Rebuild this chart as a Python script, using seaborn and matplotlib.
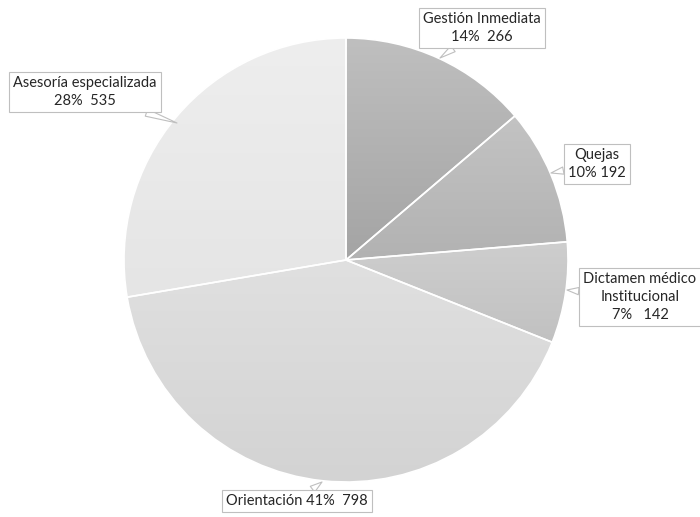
import matplotlib
matplotlib.use("Agg")
import matplotlib.pyplot as plt
import numpy as np
import seaborn as sns

# ---------------------------------------------------------------------------
# Data
# ---------------------------------------------------------------------------
categories = ["Gestión Inmediata", "Quejas", "Dictamen médico\nInstitucional",
              "Orientación", "Asesoría especializada"]
values = [266, 192, 142, 798, 535]
separators = ["\n", "\n", "\n", " ", "\n"]
gaps = ["  ", " ", "   ", "  ", "  "]

# ---------------------------------------------------------------------------
# Style
# ---------------------------------------------------------------------------
TOP_COLORS = ["#bfbfbf", "#c3c3c3", "#cecece", "#e0e0e0", "#eeeeee"]
BOTTOM_COLORS = ["#a4a4a4", "#b2b2b2", "#c1c1c1", "#d3d3d3", "#e5e5e5"]

# label centre / pointer tip in pixel space (y measured upward)
LABEL_POS = [(482, 489), (597, 353), (640, 220), (297, 16), (85, 425)]
TIP_POS = [(440, 459), (551, 344), (567, 227), (322, 35), (177, 394)]

sns.set_theme(style="white")
plt.rcParams["font.family"] = ["Lato", "DejaVu Sans"]

fig = plt.figure(figsize=(7, 5.17), dpi=100)
ax = fig.add_axes([0, 0, 1, 1])

total = sum(values)
wedges, _ = ax.pie(
    values, startangle=90, counterclock=False,
    center=(346, 257), radius=222,
    colors=TOP_COLORS,
    wedgeprops=dict(edgecolor="white", linewidth=1.2),
)

# vertical gradient fill per wedge
for w, top, bot in zip(wedges, TOP_COLORS, BOTTOM_COLORS):
    bb = w.get_path().get_extents()
    c0 = np.array(matplotlib.colors.to_rgb(top))
    c1 = np.array(matplotlib.colors.to_rgb(bot))
    t = np.linspace(0, 1, 256)[:, None]
    grad = (c0 * (1 - t) + c1 * t)[:, None, :]
    im = ax.imshow(grad, extent=(bb.x0, bb.x1, bb.y0, bb.y1),
                   origin="upper", aspect="auto", zorder=w.get_zorder() + 0.1)
    im.set_clip_path(w)
    w.set_zorder(w.get_zorder() + 0.2)
    w.set_facecolor("none")

for name, v, sep, gap, lp, tp in zip(categories, values, separators, gaps,
                                    LABEL_POS, TIP_POS):
    pct = round(v / total * 100)
    ax.annotate(
        f"{name}{sep}{pct}%{gap}{v}",
        xy=tp, xytext=lp, xycoords="data", textcoords="data",
        ha="center", va="center", fontsize=10.5, color="#262626",
        linespacing=1.35, annotation_clip=False, zorder=5,
        bbox=dict(boxstyle="square,pad=0.3", fc="white", ec="#bfbfbf", lw=0.8),
        arrowprops=dict(arrowstyle="wedge,tail_width=0.5,shrink_factor=0.5",
                        fc="white", ec="#bfbfbf", lw=0.8,
                        shrinkA=0, shrinkB=0),
    )

ax.set_xlim(0, 700)
ax.set_ylim(0, 517)
ax.axis("off")

fig.savefig("out.png", dpi=100)
